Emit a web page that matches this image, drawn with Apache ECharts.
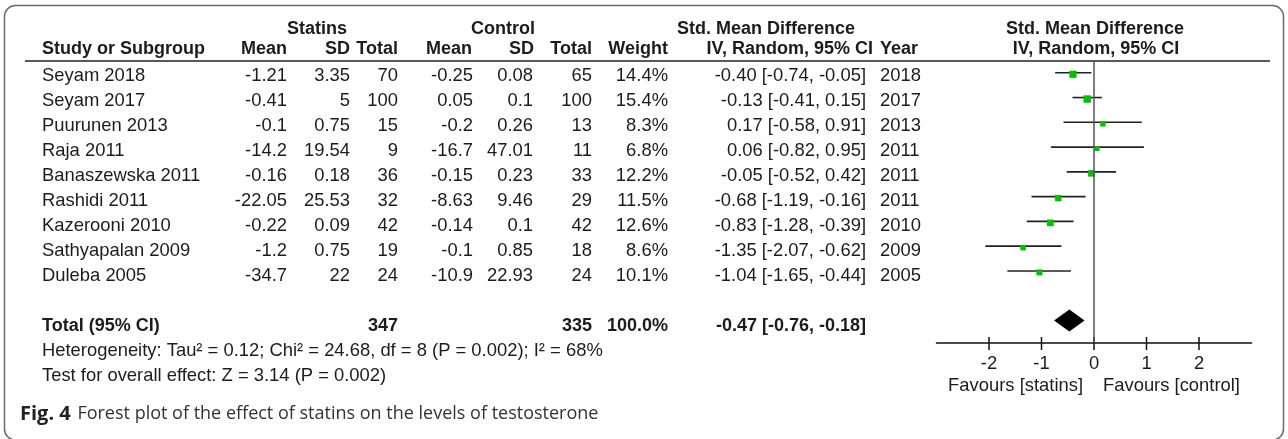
<!DOCTYPE html>
<html>
<head>
<meta charset="utf-8">
<script src="https://cdn.jsdelivr.net/npm/echarts@6/dist/echarts.min.js"></script>
<style>
html,body{margin:0;padding:0;background:#fff;}
#chart{width:1288px;height:439px;}
</style>
</head>
<body>
<div id="chart"></div>
<script>
// ---------- data ----------
const studies = ['Seyam 2018','Seyam 2017','Puurunen 2013','Raja 2011','Banaszewska 2011','Rashidi 2011','Kazerooni 2010','Sathyapalan 2009','Duleba 2005'];
const statinsMean  = [-1.21, -0.41, -0.1, -14.2, -0.16, -22.05, -0.22, -1.2, -34.7];
const statinsSD    = [3.35, 5, 0.75, 19.54, 0.18, 25.53, 0.09, 0.75, 22];
const statinsTotal = [70, 100, 15, 9, 36, 32, 42, 19, 24];
const controlMean  = [-0.25, 0.05, -0.2, -16.7, -0.15, -8.63, -0.14, -0.1, -10.9];
const controlSD    = [0.08, 0.1, 0.26, 47.01, 0.23, 9.46, 0.1, 0.85, 22.93];
const controlTotal = [65, 100, 13, 11, 33, 29, 42, 18, 24];
const weights      = [14.4, 15.4, 8.3, 6.8, 12.2, 11.5, 12.6, 8.6, 10.1];
const smd          = [-0.40, -0.13, 0.17, 0.06, -0.05, -0.68, -0.83, -1.35, -1.04];
const ciLow        = [-0.74, -0.41, -0.58, -0.82, -0.52, -1.19, -1.28, -2.07, -1.65];
const ciHigh       = [-0.05, 0.15, 0.91, 0.95, 0.42, -0.16, -0.39, -0.62, -0.44];
const years        = [2018, 2017, 2013, 2011, 2011, 2011, 2010, 2009, 2005];
const totalN       = [347, 335];
const totalWeight  = [100.0];
const totalSMD     = [-0.47, -0.76, -0.18]; // estimate, low, high
const xTicks       = [-2, -1, 0, 1, 2];
const heterogeneityText = 'Heterogeneity: Tau² = 0.12; Chi² = 24.68, df = 8 (P = 0.002); I² = 68%';
const overallText = 'Test for overall effect: Z = 3.14 (P = 0.002)';
const captionBold = 'Fig. 4';
const captionText = 'Forest plot of the effect of statins on the levels of testosterone';

// ---------- styles / layout ----------
const FF = '"Liberation Sans", Arial, Helvetica, sans-serif';
const FONT = '18.4px ' + FF;
const BOLD = 'bold 18px ' + FF;
const TXT = '#1c1c1c';
const GREEN = '#00c000';
const Y_MIN = -0.476, Y_MAX = 10.91;

const fmt2 = v => v.toFixed(2);
const ciStr = (e, l, h) => fmt2(e) + ' [' + fmt2(l) + ', ' + fmt2(h) + ']';

// column layout: x position and alignment
const cols = [
  {x: 42,  align: 'left',  get: i => studies[i]},
  {x: 287, align: 'right', get: i => String(statinsMean[i])},
  {x: 350, align: 'right', get: i => String(statinsSD[i])},
  {x: 398, align: 'right', get: i => String(statinsTotal[i])},
  {x: 473, align: 'right', get: i => String(controlMean[i])},
  {x: 533, align: 'right', get: i => String(controlSD[i])},
  {x: 592, align: 'right', get: i => String(controlTotal[i])},
  {x: 668, align: 'right', get: i => weights[i].toFixed(1) + '%'},
  {x: 866, align: 'right', get: i => ciStr(smd[i], ciLow[i], ciHigh[i])},
  {x: 880, align: 'left',  get: i => String(years[i])}
];

function txt(x, y, s, font, align) {
  return {type: 'text', x: x, y: y, style: {text: s, font: font || FONT, fill: TXT, align: align || 'left', verticalAlign: 'middle'}, silent: true};
}

const rowIdx = studies.map((_, i) => i);

const option = {
  animation: false,
  backgroundColor: '#fff',
  grid: [
    {left: 936.5, right: 36.5, top: 61, height: 282},   // forest plot
    {left: 0, right: 0, top: 26, height: 400}           // table text rows
  ],
  xAxis: [
    {
      gridIndex: 0, type: 'value', min: -3, max: 3, interval: 1,
      axisLine: {show: true, onZero: false, lineStyle: {color: '#111', width: 1.5}},
      axisTick: {show: false},
      axisLabel: {customValues: xTicks, fontSize: 18.4, fontFamily: FF, color: TXT, margin: 12},
      splitLine: {show: false}
    },
    {gridIndex: 1, type: 'value', min: 0, max: 1, show: false}
  ],
  yAxis: [
    {gridIndex: 0, type: 'value', min: Y_MIN, max: Y_MAX, inverse: true, show: false},
    {gridIndex: 1, type: 'value', min: -2, max: 14, inverse: true, show: false}
  ],
  series: [
    // study rows: CI line + weighted square
    {
      type: 'custom', xAxisIndex: 0, yAxisIndex: 0, silent: true, clip: false,
      data: rowIdx.map(i => [i, ciLow[i], ciHigh[i], smd[i], weights[i]]),
      renderItem: function (params, api) {
        const i = api.value(0);
        const p1 = api.coord([api.value(1), i]);
        const p2 = api.coord([api.value(2), i]);
        const pc = api.coord([api.value(3), i]);
        const s = 1.88 * Math.sqrt(api.value(4));
        return {type: 'group', children: [
          {type: 'line', shape: {x1: p1[0], y1: p1[1], x2: p2[0], y2: p2[1]}, style: {stroke: '#222', lineWidth: 1.6}},
          {type: 'rect', shape: {x: pc[0] - s / 2, y: pc[1] - s / 2 + 1.5, width: s, height: s}, style: {fill: GREEN}}
        ]};
      },
      markLine: {
        silent: true, symbol: 'none', label: {show: false},
        lineStyle: {color: '#555', width: 1.5, type: 'solid'},
        data: [{xAxis: 0}]
      }
    },
    // overall diamond
    {
      type: 'custom', xAxisIndex: 0, yAxisIndex: 0, silent: true, clip: false,
      data: [[10, totalSMD[0], totalSMD[1], totalSMD[2]]],
      renderItem: function (params, api) {
        const r = api.value(0);
        const pe = api.coord([api.value(1), r]);
        const pl = api.coord([api.value(2), r]);
        const ph = api.coord([api.value(3), r]);
        const h = 11;
        return {type: 'polygon', shape: {points: [[pl[0], pl[1]], [pe[0], pe[1] - h], [ph[0], ph[1]], [pe[0], pe[1] + h]]}, style: {fill: '#000'}};
      }
    },
    // axis ticks crossing the axis line
    {
      type: 'custom', xAxisIndex: 0, yAxisIndex: 0, silent: true, clip: false,
      data: xTicks.map(v => [v]),
      renderItem: function (params, api) {
        const p = api.coord([api.value(0), Y_MAX]);
        return {type: 'line', shape: {x1: p[0], y1: p[1] - 6, x2: p[0], y2: p[1] + 7}, style: {stroke: '#111', lineWidth: 1.5}};
      }
    },
    // table text rows
    {
      type: 'custom', xAxisIndex: 1, yAxisIndex: 1, silent: true, clip: false,
      data: rowIdx.map(i => [0, i]),
      renderItem: function (params, api) {
        const i = api.value(1);
        const y = api.coord([0, i])[1];
        return {type: 'group', children: cols.map(c => txt(c.x, y, c.get(i), FONT, c.align))};
      }
    },
    // total row text
    {
      type: 'custom', xAxisIndex: 1, yAxisIndex: 1, silent: true, clip: false,
      data: [[0, 10]],
      renderItem: function (params, api) {
        const y = api.coord([0, api.value(1)])[1];
        return {type: 'group', children: [
          txt(42, y, 'Total (95% CI)', BOLD, 'left'),
          txt(398, y, String(totalN[0]), BOLD, 'right'),
          txt(592, y, String(totalN[1]), BOLD, 'right'),
          txt(668, y, totalWeight[0].toFixed(1) + '%', BOLD, 'right'),
          txt(866, y, ciStr(totalSMD[0], totalSMD[1], totalSMD[2]), BOLD, 'right'),
          txt(42, api.coord([0, 11])[1], heterogeneityText, FONT, 'left'),
          txt(42, api.coord([0, 12])[1], overallText, FONT, 'left')
        ]};
      }
    }
  ],
  graphic: [
    {type: 'rect', silent: true, shape: {x: 4.5, y: 5.5, width: 1279, height: 434.5, r: 11}, style: {fill: 'none', stroke: '#6a6a6a', lineWidth: 1.5}, z: -1},
    {type: 'line', silent: true, shape: {x1: 25, y1: 61, x2: 1270, y2: 61}, style: {stroke: '#222', lineWidth: 1.5}},
    // header row 1
    txt(347, 29, 'Statins', BOLD, 'right'),
    txt(535, 29, 'Control', BOLD, 'right'),
    txt(677, 29, 'Std. Mean Difference', BOLD, 'left'),
    txt(1095, 29, 'Std. Mean Difference', BOLD, 'center'),
    // header row 2
    txt(42, 49, 'Study or Subgroup', BOLD, 'left'),
    txt(287, 49, 'Mean', BOLD, 'right'),
    txt(350, 49, 'SD', BOLD, 'right'),
    txt(398, 49, 'Total', BOLD, 'right'),
    txt(472, 49, 'Mean', BOLD, 'right'),
    txt(534, 49, 'SD', BOLD, 'right'),
    txt(592, 49, 'Total', BOLD, 'right'),
    txt(668, 49, 'Weight', BOLD, 'right'),
    txt(873, 49, 'IV, Random, 95% CI', BOLD, 'right'),
    txt(880, 49, 'Year', BOLD, 'left'),
    txt(1096, 49, 'IV, Random, 95% CI', BOLD, 'center'),
    // favours
    txt(1083, 386, 'Favours [statins]', FONT, 'right'),
    txt(1103, 386, 'Favours [control]', FONT, 'left'),
    // caption
    {type: 'text', x: 20, y: 414, silent: true, style: {
      text: '{b|' + captionBold + '}  {n|' + captionText + '}',
      verticalAlign: 'middle',
      rich: {
        b: {font: 'bold 20px "Open Sans", "Noto Sans", sans-serif', fill: '#222'},
        n: {font: '18px "Open Sans", "Noto Sans", sans-serif', fill: '#333'}
      }
    }}
  ]
};

const chart = echarts.init(document.getElementById('chart'), null, {renderer: 'canvas'});
chart.setOption(option);
</script>
</body>
</html>
